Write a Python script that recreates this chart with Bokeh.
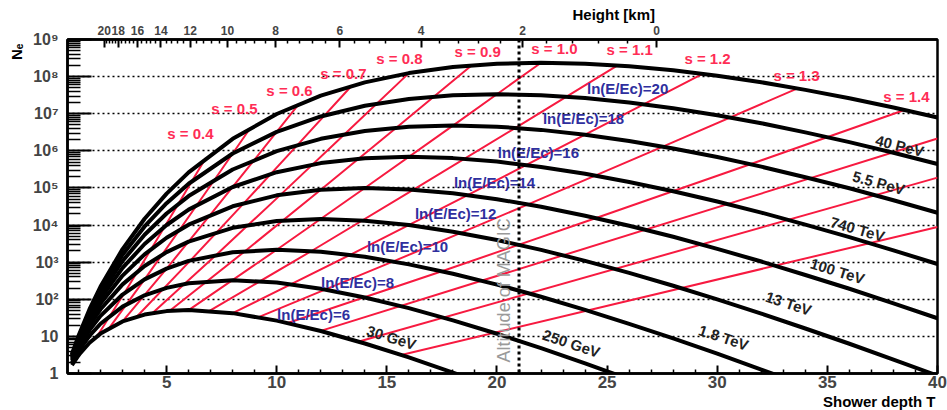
from bokeh.plotting import figure
from bokeh.models import Range1d, LinearAxis, FixedTicker, Span, Label, ColumnDataSource, Title
from bokeh.embed import file_html
from bokeh.resources import INLINE
from bokeh.core.properties import value

# ---------------- data ----------------
T_grid = [0.7, 1, 1.5, 2, 3, 4, 5, 6, 8, 10, 12, 14, 16, 18, 20, 22, 24, 26, 28, 30, 32, 34, 36, 38, 40]

ln_E_Ec = [6, 8, 10, 12, 14, 16, 18, 20, 22]
Ne_6 = [1.69, 3.10, 6.72, 11.88, 25.3, 38.8, 48.0, 51.1, 42.3, 26.6, 13.95, 6.43, 2.71, 1.06, 0.396]
Ne_8 = [1.95, 4.02, 10.4, 21.9, 63.5, 128, 203, 269, 327, 282, 193, 112, 57.8, 27.1, 11.8, 4.80, 1.87, 0.70]
Ne_10 = [2.18, 4.94, 14.8, 35.7, 134, 343, 671, 1083, 1858, 2159, 1914, 1394, 873, 488, 249, 117, 51.7,
         21.8, 8.80, 3.41, 1.28, 0.469]
Ne_12 = [2.40, 5.85, 19.9, 53.8, 252, 789, 1864, 3581, 8411, 12890, 14560, 13140, 10000, 6636, 3954, 2141,
         1083, 514, 231, 99.5, 41.2, 16.3, 6.33, 2.38, 0.878]
Ne_14 = [2.60, 6.77, 25.5, 76.5, 435, 1626, 4547, 10230, 32020, 63270, 89870, 99630, 91250, 71550, 49770,
         31080, 17860, 9579, 4828, 2290, 1042, 452, 192, 78.0, 30.8]
Ne_16 = [2.79, 7.69, 31.8, 104, 702, 3086, 10030, 26040, 1.061e5, 2.658e5, 4.676e5, 6.294e5, 6.886e5,
         6.363e5, 5.133e5, 3.690e5, 2.414e5, 1.451e5, 8.152e4, 4.302e4, 2.167e4, 1.030e4, 4734, 2083, 893]
Ne_18 = [2.97, 8.60, 38.6, 137, 1078, 5472, 20450, 60440, 3.142e5, 9.793e5, 2.109e6, 3.417e6, 4.429e6,
         4.797e6, 4.482e6, 3.669e6, 2.724e6, 1.848e6, 1.158e6, 6.785e5, 3.746e5, 1.949e5, 9.788e4, 4.671e4,
         2.150e4]
Ne_20 = [3.14, 9.52, 46.0, 176, 1586, 9200, 38980, 1.299e5, 8.467e5, 3.245e6, 8.453e6, 1.634e7, 2.494e7,
         3.130e7, 3.363e7, 3.149e7, 2.643e7, 2.014e7, 1.401e7, 9.075e6, 5.533e6, 3.150e6, 1.715e6, 8.888e5,
         4.419e5]
Ne_22 = [3.30, 10.4, 54.0, 220, 2256, 14780, 70370, 2.623e5, 2.108e6, 9.824e6, 3.066e7, 6.975e7, 1.243e8,
         1.809e8, 2.227e8, 2.369e8, 2.234e8, 1.902e8, 1.475e8, 1.056e8, 7.044e7, 4.393e7, 2.607e7, 1.466e7,
         7.876e6]
curves = [Ne_6, Ne_8, Ne_10, Ne_12, Ne_14, Ne_16, Ne_18, Ne_20, Ne_22]

# lines of constant shower age s (points where they cross the curves)
s_values = [0.4, 0.5, 0.6, 0.7, 0.8, 0.9, 1.0, 1.1, 1.2, 1.3, 1.4, 1.5, 1.6, 1.7]
s_T = [
    [1.846, 3.077, 4.308, 5.538, 6.769],
    [2.4, 4.0, 5.6, 7.2, 8.8],
    [3.0, 5.0, 7.0, 9.0, 11.0],
    [3.652, 6.087, 8.522, 10.957, 13.391],
    [4.364, 7.273, 10.182, 13.091, 16.0],
    [5.143, 8.571, 12.0, 15.429, 18.857],
    [6.0, 10.0, 14.0, 18.0, 22.0],
    [6.947, 11.579, 16.211, 20.842, 25.474],
    [8.0, 13.333, 18.667, 24.0, 29.333],
    [9.176, 15.294, 21.412, 27.529, 33.647],
    [10.5, 17.5, 24.5, 31.5, 38.5],
    [12.07, 40.0],
    [13.7, 40.0],
    [15.7, 40.0],
]
s_N = [
    [10.14, 146.0, 2293, 37580, 6.319e5],
    [16.92, 342.5, 7568, 1.745e5, 4.125e6],
    [25.32, 671, 19400, 5.854e5, 1.811e7],
    [34.44, 1120, 39750, 1.472e6, 5.592e7],
    [42.83, 1611, 66130, 2.830e6, 1.243e8],
    [48.84, 2005, 89830, 4.200e6, 2.014e8],
    [51.05, 2159, 99630, 4.797e6, 2.369e8],
    [48.76, 2000, 89520, 4.180e6, 2.002e8],
    [42.31, 1579, 64270, 2.731e6, 1.190e8],
    [33.05, 1046, 36110, 1.302e6, 4.809e7],
    [22.96, 569.8, 15430, 4.359e5, 1.264e7],
    [14.5, 2.14e6],
    [7.2, 1.9e5],
    [3.2, 8.9e3],
]

magic_T = 21.0

# top axis: height [km] vs depth T
height_km = [20, 18, 16, 14, 12, 10, 8, 6, 4, 2, 0]
height_T = [2.17, 2.80, 3.68, 4.74, 6.07, 7.76, 9.95, 12.86, 16.55, 21.16, 27.25]
height_minor_T = [2.284, 2.403, 2.529, 2.661, 2.957, 3.124, 3.299, 3.485, 3.871, 4.072, 4.283, 4.506,
                  4.980, 5.233, 5.498, 5.777, 6.375, 6.696, 7.033, 7.387, 8.156, 8.572, 9.009, 9.469,
                  10.473, 11.024, 11.604, 12.214, 13.525, 14.224, 14.959, 15.733, 17.383, 18.257,
                  19.175, 20.14, 22.258, 23.413, 24.628, 25.906]

x_ticks = [5, 10, 15, 20, 25, 30, 35, 40]
y_ticks = [1, 10, 100, 1e3, 1e4, 1e5, 1e6, 1e7, 1e8, 1e9]
y_tick_labels = ["1", "10", "10²", "10³", "10⁴", "10⁵", "10⁶", "10⁷", "10⁸", "10⁹"]

energy_labels = ["30 GeV", "250 GeV", "1.8 TeV", "13 TeV", "100 TeV", "740 TeV", "5.5 PeV", "40 PeV"]

# ---------------- annotation placement ----------------
s_lab_T = [6.08, 8.08, 10.58, 13.03, 15.57, 19.12, 22.61, 26.02, 29.56, 33.60, 38.59]
s_lab_e = [6.46, 7.14, 7.62, 8.08, 8.49, 8.68, 8.76, 8.73, 8.49, 8.03, 7.46]
ln_lab_T = [11.67, 13.67, 15.94, 18.12, 19.89, 21.88, 23.93, 25.93]
ln_lab_e = [1.59, 2.46, 3.43, 4.32, 5.16, 5.95, 6.86, 7.68]
en_lab_T = [15.21, 23.38, 30.29, 33.24, 35.46, 36.37, 37.33, 38.28]
en_lab_e = [0.97, 0.81, 0.97, 1.89, 2.76, 3.89, 5.14, 6.14]
en_lab_ang = [-0.30, -0.32, -0.32, -0.32, -0.30, -0.28, -0.27, -0.25]

FONT = "Liberation Sans"
RED = "#f71a40"

p = figure(width=947, height=410, x_range=Range1d(0.5, 40), y_range=Range1d(1, 1e9),
           y_axis_type="log", output_backend="svg", toolbar_location=None,
           min_border_left=67, min_border_right=10, min_border_top=39, min_border_bottom=37)
p.background_fill_color = "white"
p.border_fill_color = "white"
p.outline_line_color = "black"
p.outline_line_width = 2.5

# grid
p.xgrid.visible = False
p.ygrid.ticker = FixedTicker(ticks=y_ticks[1:-1])
p.ygrid.grid_line_color = "black"
p.ygrid.grid_line_dash = "2 3"
p.ygrid.grid_line_width = 1.5

# bottom axis
xa = p.xaxis[0]
xa.ticker = FixedTicker(ticks=x_ticks, minor_ticks=[t for t in range(1, 41) if t not in x_ticks])
xa.major_tick_in = 8
xa.major_tick_out = 0
xa.minor_tick_in = 4
xa.minor_tick_out = 0
xa.axis_line_width = 2.5
xa.major_tick_line_width = 2
xa.minor_tick_line_width = 1.5
xa.major_label_text_font = FONT
xa.major_label_text_font_style = "bold"
xa.major_label_text_font_size = "17px"
xa.major_label_standoff = 2

# left axis
ya = p.yaxis[0]
ya.ticker = FixedTicker(ticks=y_ticks,
                        minor_ticks=[k * 10 ** d for d in range(0, 9) for k in range(2, 10)])
ya.major_label_overrides = {int(v): lab for v, lab in zip(y_ticks, y_tick_labels)}
ya.major_tick_in = 24
ya.major_tick_out = 0
ya.minor_tick_in = 13
ya.minor_tick_out = 0
ya.axis_line_width = 2.5
ya.major_tick_line_width = 2
ya.minor_tick_line_width = 1.5
ya.major_label_text_font = FONT
ya.major_label_text_font_style = "bold"
ya.major_label_text_font_size = "16px"
ya.major_label_standoff = 9

# top axis (height)
ta = LinearAxis(ticker=FixedTicker(ticks=height_T, minor_ticks=height_minor_T))
ta.major_label_overrides = {t: str(h) for t, h in zip(height_T, height_km)}
ta.major_tick_in = 8
ta.major_tick_out = 0
ta.minor_tick_in = 4
ta.minor_tick_out = 0
ta.axis_line_width = 2.5
ta.major_tick_line_width = 2
ta.minor_tick_line_width = 1.5
ta.major_label_text_font = FONT
ta.major_label_text_font_style = "bold"
ta.major_label_text_font_size = "12px"
ta.major_label_standoff = 5
p.add_layout(ta, "above")

# axis titles as titles in the side panels
p.title = Title(text="Height [km]", align="left", offset=505, standoff=0, text_font=FONT,
                text_font_style="bold", text_font_size="15px", text_color="black")
p.title_location = "above"
p.add_layout(Title(text="Shower depth T", align="right", offset=2, standoff=0, text_font=FONT,
                   text_font_style="bold", text_font_size="15px", text_color="black"), "below")
p.add_layout(Title(text="Nₑ", align="right", offset=4, standoff=9, text_font=FONT,
                   text_font_style="bold", text_font_size="15px", text_color="black"), "left")

# MAGIC altitude line
p.add_layout(Span(location=magic_T, dimension="height", line_color="black",
                  line_width=3, line_dash="3 3"))

# constant-age lines
p.multi_line(xs=s_T, ys=s_N, line_color=RED, line_width=2)

# shower curves
p.multi_line(xs=[T_grid[:len(c)] for c in curves], ys=curves, line_color="black",
             line_width=4, line_join="round")

# labels
s_src = ColumnDataSource(dict(x=s_lab_T, y=[10 ** e for e in s_lab_e],
                              t=["s = %.1f" % s for s in s_values[:len(s_lab_T)]]))
p.text(x="x", y="y", text="t", source=s_src, text_font=value(FONT), text_font_style="bold",
       text_font_size="15px", text_color="#ff2d55", text_align="center", text_baseline="middle")

ln_src = ColumnDataSource(dict(x=ln_lab_T, y=[10 ** e for e in ln_lab_e],
                               t=["ln(E/Ec)=%d" % v for v in ln_E_Ec[:len(ln_lab_T)]]))
p.text(x="x", y="y", text="t", source=ln_src, text_font=value(FONT), text_font_style="bold",
       text_font_size="15px", text_color="#2f2f9e", text_align="center", text_baseline="middle")

en_src = ColumnDataSource(dict(x=en_lab_T, y=[10 ** e for e in en_lab_e], t=energy_labels,
                               a=en_lab_ang))
p.text(x="x", y="y", text="t", angle="a", source=en_src, text_font=value(FONT),
       text_font_style="bold", text_font_size="15px", text_color="#222222",
       text_align="center", text_baseline="middle")

p.add_layout(Label(x=20.30, y=10 ** 2.24, text="Altitude of MAGIC", angle=1.5708,
                   text_font=FONT, text_font_size="18px", text_color="#9a9a9a",
                   text_align="center", text_baseline="middle"))

open("out.html", "w").write(file_html(p, INLINE))
